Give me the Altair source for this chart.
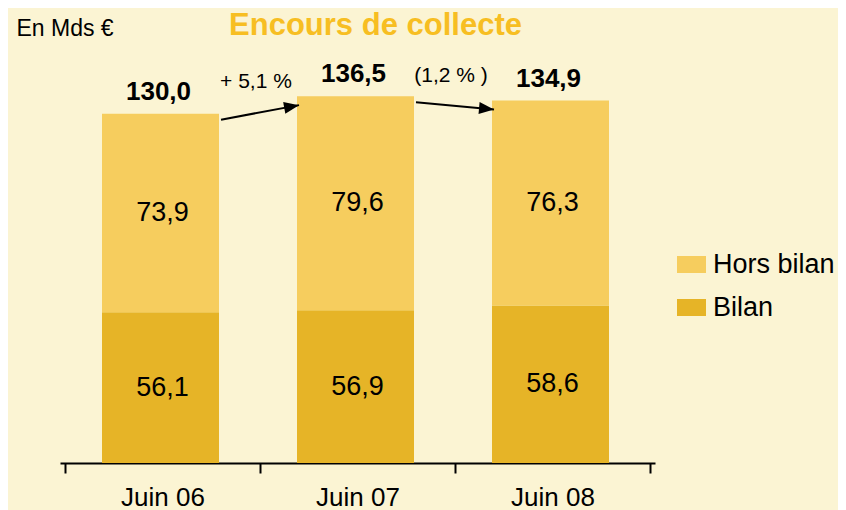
import altair as alt
import pandas as pd

periods = ["Juin 06", "Juin 07", "Juin 08"]
bilan = [56.1, 56.9, 58.6]
hors_bilan = [73.9, 79.6, 76.3]
totals = [130.0, 136.5, 134.9]
growth = ["+ 5,1 %", "(1,2 % )"]
series = ["Hors bilan", "Bilan"]
colors = ["#F6CD5E", "#E6B427"]

FONT = "Liberation Sans"
W, H = 595, 403
YMAX = 150
PXX = W / 3.0
PXY = H / YMAX


def fmt(v):
    return f"{v:.1f}".replace(".", ",")


seg_rows = []
for i, p in enumerate(periods):
    seg_rows.append(dict(idx=i, period=p, series="Bilan", y0=0.0, y1=bilan[i], label=fmt(bilan[i])))
    seg_rows.append(dict(idx=i, period=p, series="Hors bilan", y0=bilan[i], y1=bilan[i] + hors_bilan[i],
                         label=fmt(hors_bilan[i])))
seg = pd.DataFrame(seg_rows)

tot = pd.DataFrame(dict(idx=list(range(len(periods))), total=totals, label=[fmt(t) for t in totals]))

arr = pd.DataFrame(dict(idx=[0, 1], t0=totals[:-1], t1=totals[1:], label=growth))

xscale = alt.Scale(domain=[-0.5, 2.5], nice=False, zero=False)
yscale = alt.Scale(domain=[0, YMAX], nice=False)

label_expr = "datum.value % 1 == 0 ? " + str(periods) + "[datum.value] : ''"

xaxis = alt.Axis(
    title=None,
    values=[-0.5, 0, 0.5, 1, 1.5, 2, 2.5],
    grid=False,
    domainColor="black", domainWidth=2,
    tickColor="black", tickWidth=2, tickSize=10,
    tickOpacity={"condition": {"test": "datum.value % 1 == 0", "value": 0}, "value": 1},
    labelExpr=label_expr,
    labelOverlap=False, labelFlush=False,
    labelFont=FONT, labelFontSize=26, labelColor="black",
    labelBaseline="middle", labelPadding=24,
)
yaxis = alt.Axis(
    title="En Mds €", domain=False, ticks=False, labels=False, grid=False,
    titleAngle=0, titleAlign="left", titleBaseline="middle",
    titleX=-44, titleY=-32, titleFont=FONT, titleFontSize=23,
    titleFontWeight="normal", titleColor="black",
)


def X(f):
    return alt.X(f, type="quantitative", scale=xscale, axis=xaxis)


def Y(f):
    return alt.Y(f, type="quantitative", scale=yscale, axis=yaxis)


bars = alt.Chart(seg).mark_bar(size=117, xOffset=-2).encode(
    x=X("idx"),
    y=Y("y0"),
    y2="y1:Q",
    color=alt.Color(
        "series:N",
        scale=alt.Scale(domain=series, range=colors),
        legend=alt.Legend(
            title=None, orient="none", legendX=617, legendY=190,
            symbolType="M-1,-0.586H1V0.586H-1Z", symbolSize=841, symbolStrokeWidth=0,
            symbolOpacity=1,
            labelFont=FONT, labelFontSize=27, labelColor="black",
            labelOffset=7, rowPadding=15, padding=0,
        ),
    ),
)

seg_labels = alt.Chart(seg).transform_calculate(
    mid="(datum.y0 + datum.y1) / 2"
).mark_text(font=FONT, fontSize=27, color="black", baseline="middle").encode(
    x=X("idx"), y=Y("mid:Q"), text="label:N"
)

tot_labels = alt.Chart(tot).mark_text(
    font=FONT, fontSize=26, fontWeight="bold", color="black", baseline="middle", dy=-22, dx=-4
).encode(x=X("idx"), y=Y("total"), text="label:N")

arr_calc = alt.Chart(arr).transform_calculate(
    xs="datum.idx + 0.30",
    xe="datum.idx + 0.70",
    ys="datum.t0 - 2.2",
    ye="datum.t1 - 3.3",
).transform_calculate(
    xm="(datum.xs + datum.xe) / 2",
    ym="(datum.ys + datum.ye) / 2",
    ang=f"(atan2(-(datum.ye - datum.ys) * {PXY}, (datum.xe - datum.xs) * {PXX}) * 180 / PI + 360) % 360",
)

arrow_lines = arr_calc.mark_rule(color="black", strokeWidth=2).encode(
    x=X("xs"), y=Y("ys"), x2="xe:Q", y2="ye:Q"
)

arrow_heads = arr_calc.mark_point(
    shape="M-2,-0.8L0,0L-2,0.8Z", size=225, filled=True, color="black", opacity=1, strokeWidth=0
).encode(x=X("xe"), y=Y("ye"), angle=alt.Angle("ang:Q", scale=None))

growth_labels = arr_calc.mark_text(
    font=FONT, fontSize=21, color="black", baseline="middle", dy=-30, dx=-4
).encode(x=X("xm"), y=Y("ym"), text="label:N")

chart = alt.layer(
    bars, seg_labels, tot_labels, arrow_lines, arrow_heads, growth_labels
).properties(
    width=W, height=H,
    autosize=alt.AutoSizeParams(type="none"),
    padding={"left": 52, "top": 52, "right": 183, "bottom": 47},
    background="#FBF4D3",
    title=alt.Title(
        "Encours de collecte", font=FONT, fontSize=31, fontWeight="bold",
        color="#F7BE22", anchor="middle", dx=18, offset=-49, baseline="alphabetic",
    ),
).configure_view(stroke=None)

chart.save("out.html", embed_options={"renderer": "svg", "actions": False})
